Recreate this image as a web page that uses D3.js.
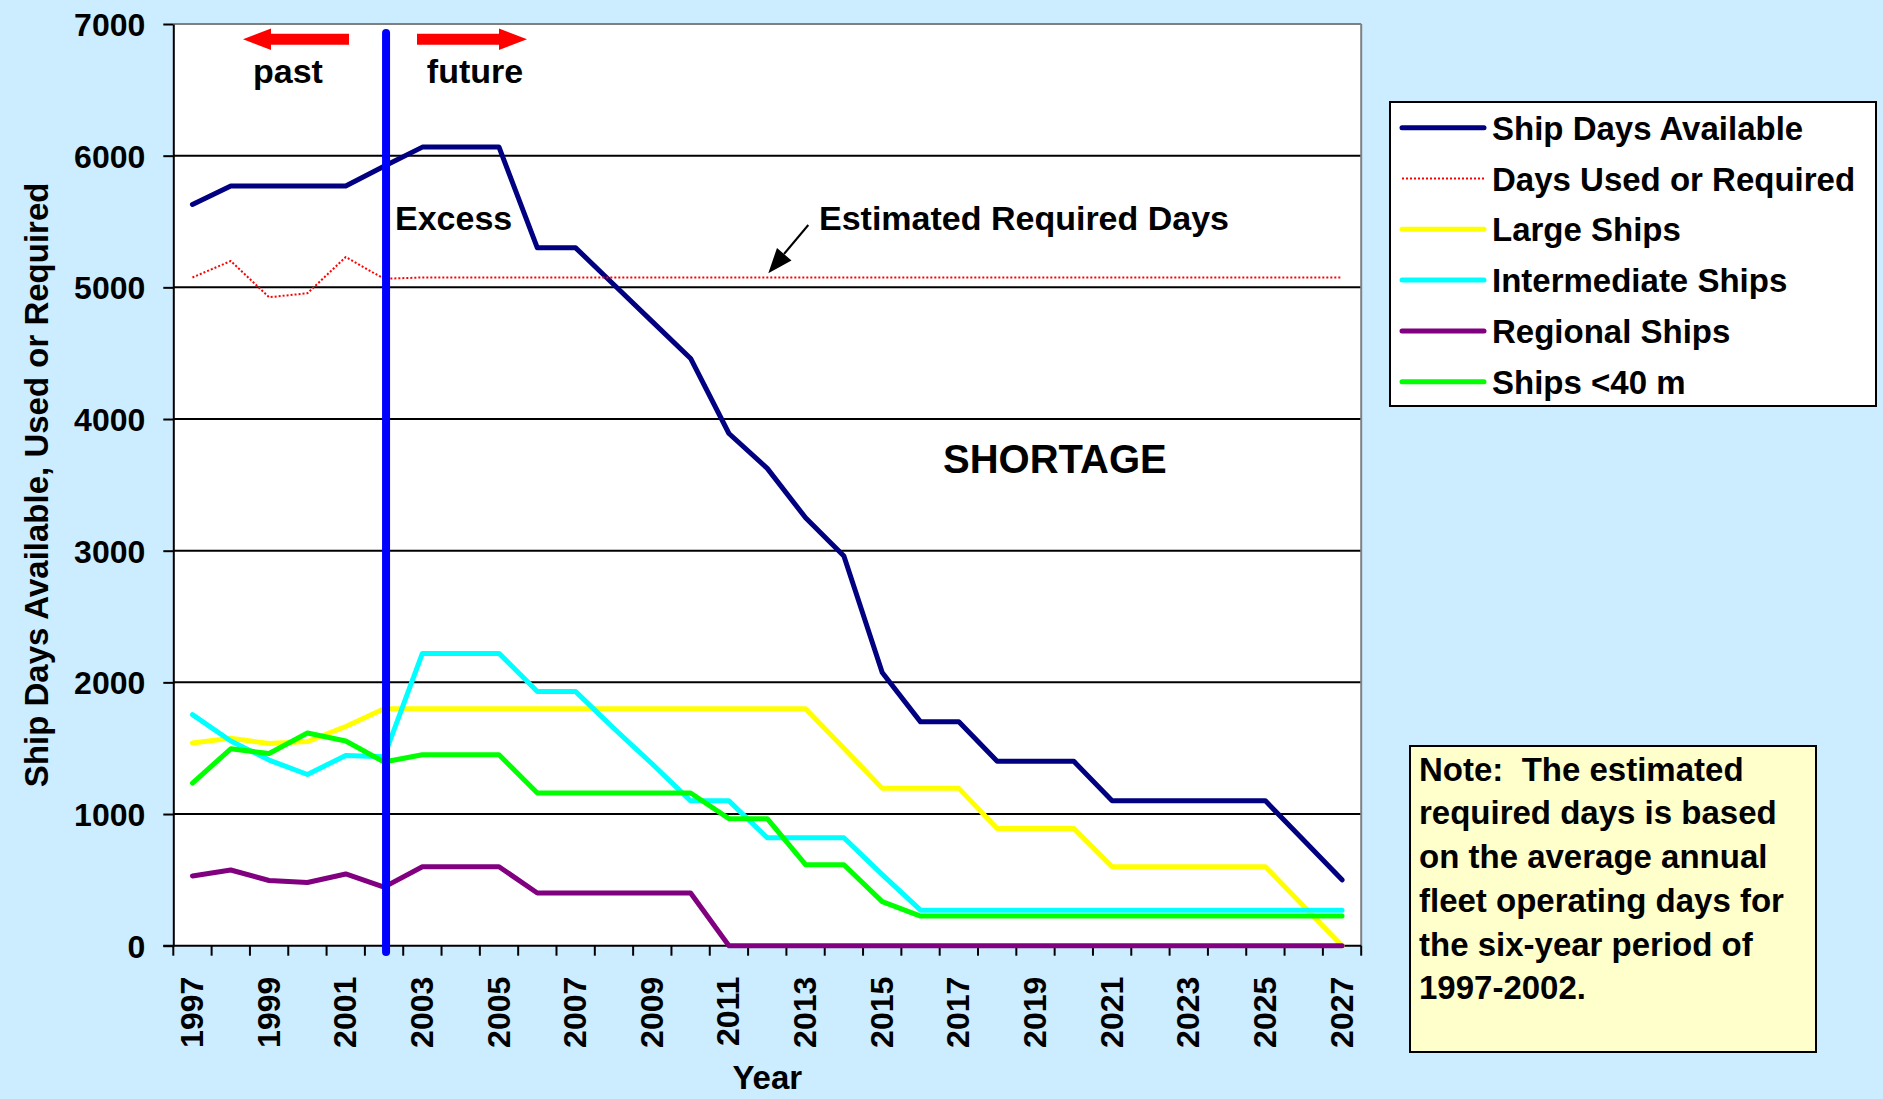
<!DOCTYPE html>
<html>
<head>
<meta charset="utf-8">
<script src="https://cdn.jsdelivr.net/npm/d3@7"></script>
<style>
  body { margin: 0; background: #CCECFF; }
  svg text { font-family: "Liberation Sans", Arial, sans-serif; font-weight: bold; fill: #000; }
</style>
</head>
<body>
<svg id="chart" width="1883" height="1099"></svg>
<script>
// categories
const years = [1997, 1998, 1999, 2000, 2001, 2002, 2003, 2004, 2005, 2006, 2007,
  2008, 2009, 2010, 2011, 2012, 2013, 2014, 2015, 2016, 2017, 2018, 2019, 2020,
  2021, 2022, 2023, 2024, 2025, 2026, 2027];
const yearLabels = [1997, 1999, 2001, 2003, 2005, 2007, 2009, 2011, 2013, 2015,
  2017, 2019, 2021, 2023, 2025, 2027];
const yTicks = [0, 1000, 2000, 3000, 4000, 5000, 6000, 7000];

// series values (ship days), one per year
const shipDaysAvailable = [5630, 5770, 5770, 5770, 5770, 5920, 6065, 6065, 6065, 5300, 5300,
  5020, 4740, 4460, 3890, 3625, 3250, 2960, 2075, 1700, 1700, 1400, 1400, 1400,
  1100, 1100, 1100, 1100, 1100, 800, 500];
const daysUsedOrRequired = [5075, 5200, 4925, 4955, 5230, 5065, 5075, 5075, 5075, 5075, 5075,
  5075, 5075, 5075, 5075, 5075, 5075, 5075, 5075, 5075, 5075, 5075, 5075, 5075,
  5075, 5075, 5075, 5075, 5075, 5075, 5075];
const largeShips = [1540, 1575, 1535, 1550, 1665, 1800, 1800, 1800, 1800, 1800, 1800,
  1800, 1800, 1800, 1800, 1800, 1800, 1500, 1195, 1195, 1195, 890, 890, 890,
  600, 600, 600, 600, 600, 300, 0];
const intermediateShips = [1755, 1555, 1410, 1300, 1445, 1435, 2220, 2220, 2220, 1930, 1930,
  1650, 1380, 1100, 1100, 820, 820, 820, 540, 270, 270, 270, 270, 270,
  270, 270, 270, 270, 270, 270, 270];
const regionalShips = [530, 575, 495, 480, 545, 445, 600, 600, 600, 400, 400,
  400, 400, 400, 0, 0, 0, 0, 0, 0, 0, 0, 0, 0,
  0, 0, 0, 0, 0, 0, 0];
const shipsUnder40m = [1235, 1495, 1460, 1615, 1555, 1395, 1450, 1450, 1450, 1160, 1160,
  1160, 1160, 1160, 965, 965, 615, 615, 335, 225, 225, 225, 225, 225,
  225, 225, 225, 225, 225, 225, 225];

const seriesNames = ["Ship Days Available", "Days Used or Required", "Large Ships",
  "Intermediate Ships", "Regional Ships", "Ships <40 m"];
const seriesColors = ["#000080", "#FF0000", "#FFFF00", "#00FFFF", "#800080", "#00FF00"];
const seriesValues = [shipDaysAvailable, daysUsedOrRequired, largeShips,
  intermediateShips, regionalShips, shipsUnder40m];

const noteLines = ["Note:  The estimated", "required days is based", "on the average annual",
  "fleet operating days for", "the six-year period of", "1997-2002."];

const svg = d3.select("#chart");
const plot = { left: 173.3, right: 1361.2, top: 24, bottom: 945.7 };

// background
svg.append("rect").attr("width", 1883).attr("height", 1099).attr("fill", "#CCECFF");
svg.append("rect")
  .attr("x", plot.left).attr("y", plot.top)
  .attr("width", plot.right - plot.left).attr("height", plot.bottom - plot.top)
  .attr("fill", "#FFFFFF");

const x = d3.scaleBand().domain(years).range([plot.left, plot.right]).padding(0);
const cx = d => x(d) + x.bandwidth() / 2;
const y = d3.scaleLinear().domain([0, 7000]).range([plot.bottom, plot.top]);

// gridlines
svg.append("g").selectAll("line")
  .data(yTicks.filter(t => t > 0))
  .enter().append("line")
  .attr("x1", plot.left).attr("x2", plot.right)
  .attr("y1", d => y(d)).attr("y2", d => y(d))
  .attr("stroke", d => d === 7000 ? "#808080" : "#000")
  .attr("stroke-width", 2);
// right border
svg.append("line")
  .attr("x1", plot.right).attr("x2", plot.right)
  .attr("y1", plot.top).attr("y2", plot.bottom)
  .attr("stroke", "#808080").attr("stroke-width", 2);

// y axis
const yAxis = svg.append("g")
  .attr("transform", "translate(" + plot.left + ",0)")
  .call(d3.axisLeft(y).tickValues(yTicks).tickFormat(d3.format("d"))
    .tickSize(10).tickPadding(18).tickSizeOuter(0));
yAxis.select(".domain").attr("stroke", "#000").attr("stroke-width", 2);
yAxis.selectAll(".tick line").attr("stroke", "#000").attr("stroke-width", 2);
yAxis.selectAll(".tick text").attr("font-size", 32).attr("font-family", null).attr("dy", "0.36em");

// x axis
svg.append("line")
  .attr("x1", plot.left - 10).attr("x2", plot.right)
  .attr("y1", plot.bottom).attr("y2", plot.bottom)
  .attr("stroke", "#000").attr("stroke-width", 2);
const tickPos = years.map(d => x(d)).concat([plot.right]);
svg.append("g").selectAll("line")
  .data(tickPos)
  .enter().append("line")
  .attr("x1", d => d).attr("x2", d => d)
  .attr("y1", plot.bottom).attr("y2", plot.bottom + 10)
  .attr("stroke", "#000").attr("stroke-width", 2);
svg.append("g").selectAll("text")
  .data(yearLabels)
  .enter().append("text")
  .attr("transform", d => "translate(" + cx(d) + "," + (plot.bottom + 31) + ") rotate(-90)")
  .attr("text-anchor", "end")
  .attr("dy", "0.33em")
  .attr("font-size", 32)
  .text(d => d);

// axis titles
svg.append("text")
  .attr("x", (plot.left + plot.right) / 2).attr("y", 1089)
  .attr("text-anchor", "middle").attr("font-size", 33)
  .text("Year");
svg.append("text")
  .attr("transform", "translate(48," + (plot.top + plot.bottom) / 2 + ") rotate(-90)")
  .attr("text-anchor", "middle").attr("font-size", 33)
  .text("Ship Days Available, Used or Required");

// series
const line = d3.line().x((d, i) => cx(years[i])).y(d => y(d));
seriesValues.forEach((vals, k) => {
  const dotted = k === 1;
  svg.append("path")
    .datum(vals)
    .attr("d", line)
    .attr("fill", "none")
    .attr("stroke", seriesColors[k])
    .attr("stroke-width", dotted ? 2 : 5)
    .attr("stroke-dasharray", dotted ? "2,2" : null)
    .attr("stroke-linejoin", "round")
    .attr("stroke-linecap", dotted ? "butt" : "round");
});

// past / future divider
svg.append("line")
  .attr("x1", cx(2002) + 2).attr("x2", cx(2002) + 2)
  .attr("y1", 33).attr("y2", 952)
  .attr("stroke", "#0000FF").attr("stroke-width", 8).attr("stroke-linecap", "round");

// red arrows
svg.append("polygon")
  .attr("points", "243,39.3 271,28.6 271,33.8 349,33.8 349,44.8 271,44.8 271,50")
  .attr("fill", "#FF0000");
svg.append("polygon")
  .attr("points", "527,39.3 499,28.6 499,33.8 417,33.8 417,44.8 499,44.8 499,50")
  .attr("fill", "#FF0000");

svg.append("text").attr("x", 288).attr("y", 83).attr("text-anchor", "middle")
  .attr("font-size", 34).text("past");
svg.append("text").attr("x", 475).attr("y", 83).attr("text-anchor", "middle")
  .attr("font-size", 34).text("future");
svg.append("text").attr("x", 395).attr("y", 230).attr("font-size", 34).text("Excess");
svg.append("text").attr("x", 819).attr("y", 230).attr("font-size", 34).text("Estimated Required Days");
svg.append("text").attr("x", 943).attr("y", 473).attr("font-size", 40).text("SHORTAGE");

// pointer to the required-days line
svg.append("line")
  .attr("x1", 808.3).attr("y1", 225).attr("x2", 784).attr("y2", 254)
  .attr("stroke", "#000").attr("stroke-width", 2);
svg.append("polygon")
  .attr("points", "768.3,273.3 791.5,260.5 777,248")
  .attr("fill", "#000");

// legend
const legend = svg.append("g");
legend.append("rect")
  .attr("x", 1390).attr("y", 102).attr("width", 486).attr("height", 304)
  .attr("fill", "#FFFFFF").attr("stroke", "#000").attr("stroke-width", 2);
seriesNames.forEach((name, i) => {
  const ly = 127.7 + i * 50.8;
  const dotted = i === 1;
  legend.append("line")
    .attr("x1", 1402).attr("x2", 1484).attr("y1", ly).attr("y2", ly)
    .attr("stroke", seriesColors[i])
    .attr("stroke-width", dotted ? 2 : 5)
    .attr("stroke-dasharray", dotted ? "2,2" : null)
    .attr("stroke-linecap", dotted ? "butt" : "round");
  legend.append("text")
    .attr("x", 1492).attr("y", ly + 12)
    .attr("font-size", 33)
    .text(name);
});

// note box
const note = svg.append("g");
note.append("rect")
  .attr("x", 1410).attr("y", 746).attr("width", 406).attr("height", 306)
  .attr("fill", "#FFFFCC").attr("stroke", "#000").attr("stroke-width", 2);
note.selectAll("text.note")
  .data(noteLines)
  .enter().append("text")
  .attr("class", "note")
  .attr("x", 1419)
  .attr("y", (d, i) => 780.7 + i * 43.7)
  .attr("font-size", 33)
  .attr("xml:space", "preserve")
  .style("white-space", "pre")
  .text(d => d);
</script>
</body>
</html>
